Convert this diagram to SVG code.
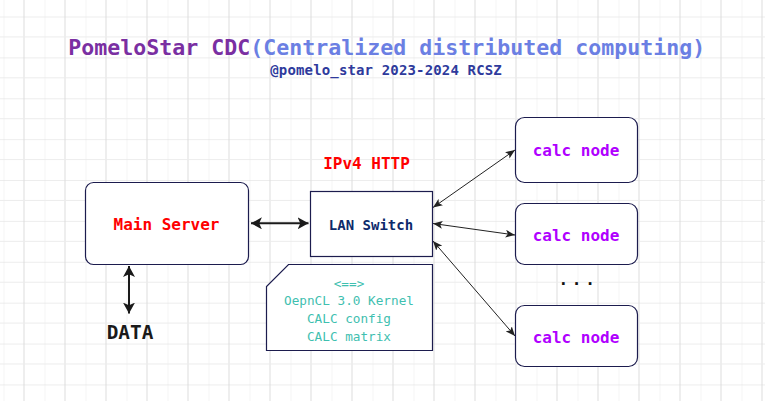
<svg xmlns="http://www.w3.org/2000/svg" width="765" height="401" viewBox="0 0 765 401">
<style>
.box{fill:#ffffff;stroke:#1c1c4e;stroke-width:1.2}
.mono{font-family:"DejaVu Sans Mono","Liberation Mono",monospace}
.thick{stroke:#1a1a1a;stroke-width:2;fill:none}
.thin{stroke:#222222;stroke-width:1;fill:none}
.note{fill:#3fc0b0;font-size:12.7px;text-anchor:middle}
.calc{fill:#b000ff;font-size:16px;font-weight:bold;text-anchor:middle}
</style>
<defs>
<pattern id="grid" patternUnits="userSpaceOnUse" x="3.5" y="16.5" width="41" height="40.88">
<line x1="0" y1="0" x2="0" y2="40.88" stroke="#ececec" stroke-width="1"/>
<line x1="20.5" y1="0" x2="20.5" y2="40.88" stroke="#dcdcdc" stroke-width="1"/>
<line x1="0" y1="20.44" x2="41" y2="20.44" stroke="#ececec" stroke-width="1"/>
<line x1="0" y1="0" x2="41" y2="0" stroke="#dcdcdc" stroke-width="1"/>
</pattern>
<marker id="big" markerUnits="userSpaceOnUse" markerWidth="12" markerHeight="12" refX="10" refY="5.5" orient="auto-start-reverse" viewBox="0 0 11 11">
<path d="M0,0 L10,5.5 L0,11 L2.5,5.5 Z" fill="#1a1a1a"/>
</marker>
<marker id="small" markerUnits="userSpaceOnUse" markerWidth="10" markerHeight="8" refX="8.5" refY="3.5" orient="auto-start-reverse" viewBox="0 0 9 7">
<path d="M0,0 L8.5,3.5 L0,7 L2,3.5 Z" fill="#222222"/>
</marker>
</defs>
<rect x="0" y="0" width="765" height="401" fill="#ffffff"/>
<rect x="0" y="0" width="765" height="401" fill="url(#grid)"/>

<g id="title" class="mono" font-weight="bold">
<text x="68.3" y="55" font-size="21.6px"><tspan fill="#7a2fa2">PomeloStar CDC</tspan><tspan fill="#6b7fe3">(Centralized distributed computing)</tspan></text>
<text x="386" y="75" font-size="14px" fill="#2e3a9c" text-anchor="middle" textLength="231.5" lengthAdjust="spacing">@pomelo_star 2023-2024 RCSZ</text>
</g>

<g id="connectors">
<line class="thick" x1="251" y1="223.3" x2="308.5" y2="223.3" marker-start="url(#big)" marker-end="url(#big)"/>
<line class="thick" x1="129" y1="266" x2="129" y2="313.5" marker-start="url(#big)" marker-end="url(#big)"/>
<line class="thin" x1="433" y1="207.5" x2="515" y2="150" marker-start="url(#small)" marker-end="url(#small)"/>
<line class="thin" x1="433" y1="223.5" x2="515" y2="235" marker-start="url(#small)" marker-end="url(#small)"/>
<line class="thin" x1="433" y1="241" x2="515" y2="336" marker-start="url(#small)" marker-end="url(#small)"/>
</g>

<g id="main-server">
<rect class="box" x="85.5" y="182.5" width="163" height="82" rx="8" ry="8"/>
<text class="mono" x="166.5" y="230" font-size="16px" font-weight="bold" fill="#ff0000" text-anchor="middle">Main Server</text>
</g>

<g id="lan-switch">
<rect class="box" x="310.5" y="191.5" width="122" height="65"/>
<text class="mono" x="371" y="230" font-size="14px" font-weight="bold" fill="#0d2a6b" text-anchor="middle">LAN Switch</text>
</g>

<g id="protocol-label">
<text class="mono" x="366.5" y="169" font-size="16px" font-weight="bold" fill="#ff0000" text-anchor="middle">IPv4 HTTP</text>
</g>

<g id="note">
<polygon class="box" points="288.5,264.5 432.5,264.5 432.5,350.5 266.5,350.5 266.5,286.5"/>
<text class="mono note" x="349" y="287.5">&lt;==&gt;</text>
<text class="mono note" x="349" y="305">OepnCL 3.0 Kernel</text>
<text class="mono note" x="349" y="323">CALC config</text>
<text class="mono note" x="349" y="340.5">CALC matrix</text>
</g>

<g id="data">
<text class="mono" x="130" y="339.3" font-size="19.4px" font-weight="bold" fill="#1a1a1a" text-anchor="middle">DATA</text>
</g>

<g id="calc-node-1">
<rect class="box" x="515.5" y="117.5" width="122" height="65" rx="9" ry="9"/>
<text class="mono calc" x="576" y="156">calc node</text>
</g>

<g id="calc-node-2">
<rect class="box" x="515.5" y="203.5" width="122" height="61" rx="9" ry="9"/>
<text class="mono calc" x="576" y="241">calc node</text>
</g>

<g id="ellipsis">
<text class="mono" x="578.5" y="285" font-size="16px" font-weight="bold" letter-spacing="3.7" fill="#111111" text-anchor="middle">...</text>
</g>

<g id="calc-node-3">
<rect class="box" x="515.5" y="305.5" width="122" height="61" rx="9" ry="9"/>
<text class="mono calc" x="576" y="343">calc node</text>
</g>
</svg>
